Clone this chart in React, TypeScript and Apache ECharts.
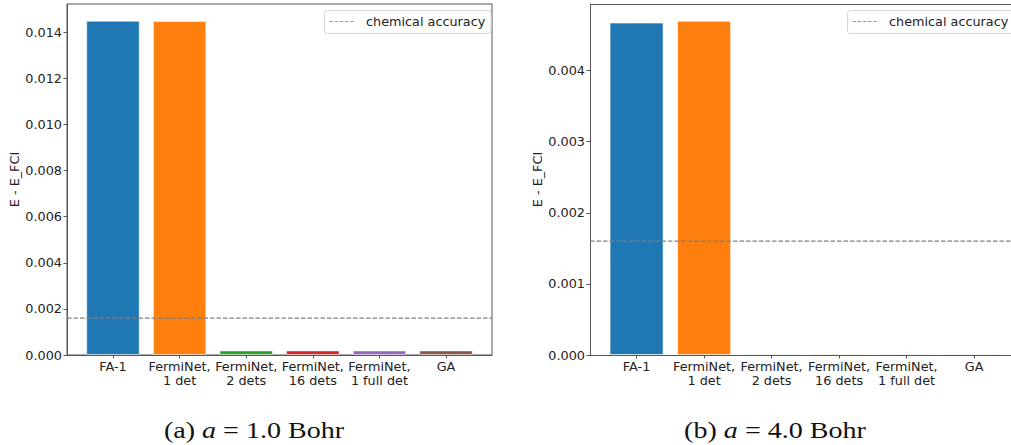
import React, { useEffect, useRef } from "react";
import * as echarts from "echarts";

const categories = [
  "FA-1",
  "FermiNet,\n1 det",
  "FermiNet,\n2 dets",
  "FermiNet,\n16 dets",
  "FermiNet,\n1 full det",
  "GA",
];
const valuesA = [0.0145, 0.01449, 0.0002, 0.0002, 0.0002, 0.0002];
const valuesB = [0.004674, 0.004698, 0.000016, 0.000016, 0.000016, 0.000016];
const chemicalAccuracy = 0.0016;
const yTicksA = [0, 0.002, 0.004, 0.006, 0.008, 0.01, 0.012, 0.014];
const yTicksB = [0, 0.001, 0.002, 0.003, 0.004];
const yMaxA = 0.015225;
const yMaxB = 0.004935;
const barColors = ["#1f77b4", "#ff7f0e", "#2ca02c", "#d62728", "#9467bd", "#8c564b"];
const legendLabel = "chemical accuracy";
const yAxisName = "E - E_FCI";
const captionA = ["(a) ", "a", " = 1.0 Bohr"];
const captionB = ["(b) ", "a", " = 4.0 Bohr"];

const X_MIN = -0.69;
const X_MAX_A = 5.69;
// right panel is cropped by the image edge: same unit width (67.5px) as the full panel
const X_MAX_B = -0.69 + 421 / 67.5;
const FONT = "DejaVu Sans";
const TEXT = "#222";
const AXIS = "#555";

export default function App() {
  const ref = useRef<HTMLDivElement>(null);
  useEffect(() => {
    if (!ref.current) return;
    const chart = echarts.init(ref.current, null, { renderer: "svg" });
    const idx = categories.map((_, i) => i);

    const xAxis = (g: number, max: number) => ({
      type: "value",
      gridIndex: g,
      min: X_MIN,
      max,
      splitLine: { show: false },
      axisLine: { show: true, onZero: false, lineStyle: { color: AXIS, width: 1 } },
      axisTick: { show: true, customValues: idx, length: 3.5, lineStyle: { color: AXIS } },
      axisLabel: {
        customValues: idx,
        formatter: (v: number) => categories[Math.round(v)] ?? "",
        color: TEXT,
        fontFamily: FONT,
        fontSize: 12.8,
        lineHeight: 13.5,
        margin: 5,
        align: "center",
      },
    });
    const yAxis = (g: number, max: number, ticks: number[]) => ({
      type: "value",
      gridIndex: g,
      min: 0,
      max,
      splitLine: { show: false },
      axisLine: { show: true, onZero: false, lineStyle: { color: AXIS, width: 1 } },
      axisTick: { show: true, customValues: ticks, length: 3.5, lineStyle: { color: AXIS } },
      axisLabel: {
        customValues: ticks,
        formatter: (v: number) => v.toFixed(3),
        color: TEXT,
        fontFamily: FONT,
        fontSize: 12.8,
        margin: 5,
      },
      name: yAxisName,
      nameLocation: "middle",
      nameGap: 46,
      nameTextStyle: { color: TEXT, fontFamily: FONT, fontSize: 12.8 },
    });
    const bars = (g: number, vals: number[], w: number) => ({
      type: "bar",
      xAxisIndex: g,
      yAxisIndex: g,
      barWidth: w,
      silent: true,
      z: 2,
      data: vals.map((v, i) => ({
        value: [i, v],
        itemStyle: {
          color: barColors[i],
          borderColor: "rgba(255,255,255,0.55)",
          borderWidth: 1,
        },
      })),
    });
    const accLine = (g: number, max: number) => ({
      type: "line",
      xAxisIndex: g,
      yAxisIndex: g,
      symbol: "none",
      silent: true,
      z: 5,
      lineStyle: { color: "#808080", width: 1.2, type: [4.5, 2] },
      data: [
        [X_MIN, chemicalAccuracy],
        [max, chemicalAccuracy],
      ],
    });
    const legend = (x0: number, x1: number) => ({
      type: "group",
      children: [
        {
          type: "rect",
          shape: { x: x0, y: 10.5, width: x1 - x0, height: 23, r: 3 },
          style: { fill: "rgba(255,255,255,0.85)", stroke: "#d6d6d6", lineWidth: 1 },
          z: 10,
        },
        {
          type: "line",
          shape: { x1: x0 + 5, y1: 21.5, x2: x0 + 31, y2: 21.5 },
          style: { stroke: "#999", lineWidth: 1.2, lineDash: [3.5, 1.7] },
          z: 11,
        },
        {
          type: "text",
          style: {
            text: legendLabel,
            x: x0 + 41.5,
            y: 21.5,
            font: `12.8px "${FONT}"`,
            fill: TEXT,
            verticalAlign: "middle",
            align: "left",
          },
          z: 11,
        },
      ],
    });
    const caption = (cx: number, parts: string[]) => ({
      type: "text",
      x: cx,
      y: 430,
      scaleX: 1.22,
      style: {
        text: `{r|${parts[0]}}{i|${parts[1]}}{r|${parts[2]}}`,
        x: 0,
        y: 0,
        align: "center",
        verticalAlign: "middle",
        fill: "#111",
        rich: {
          r: { fontFamily: "Liberation Serif", fontSize: 23, fill: "#111" },
          i: { fontFamily: "Liberation Serif", fontSize: 23, fontStyle: "italic", fill: "#111" },
        },
      },
    });

    chart.setOption({
      animation: false,
      backgroundColor: "#fff",
      grid: [
        { left: 67, top: 4, width: 425, height: 351, show: true, borderColor: AXIS, borderWidth: 1, containLabel: false },
        { left: 590, top: 4, width: 421, height: 351, show: false, containLabel: false },
      ],
      xAxis: [xAxis(0, X_MAX_A), xAxis(1, X_MAX_B)],
      yAxis: [yAxis(0, yMaxA, yTicksA), yAxis(1, yMaxB, yTicksB)],
      series: [bars(0, valuesA, 53.5), accLine(0, X_MAX_A), bars(1, valuesB, 54), accLine(1, X_MAX_B)],
      graphic: [
        {
          type: "line",
          shape: { x1: 590, y1: 4.5, x2: 1011, y2: 4.5 },
          style: { stroke: AXIS, lineWidth: 1 },
          z: 1,
        },
        legend(324.5, 491),
        legend(847.5, 1016),
        caption(254, captionA),
        caption(775, captionB),
      ],
    });
    return () => chart.dispose();
  }, []);
  return (
    <div
      ref={ref}
      style={{ position: "absolute", left: 0, top: 0, width: 1011, height: 445 }}
    />
  );
}
